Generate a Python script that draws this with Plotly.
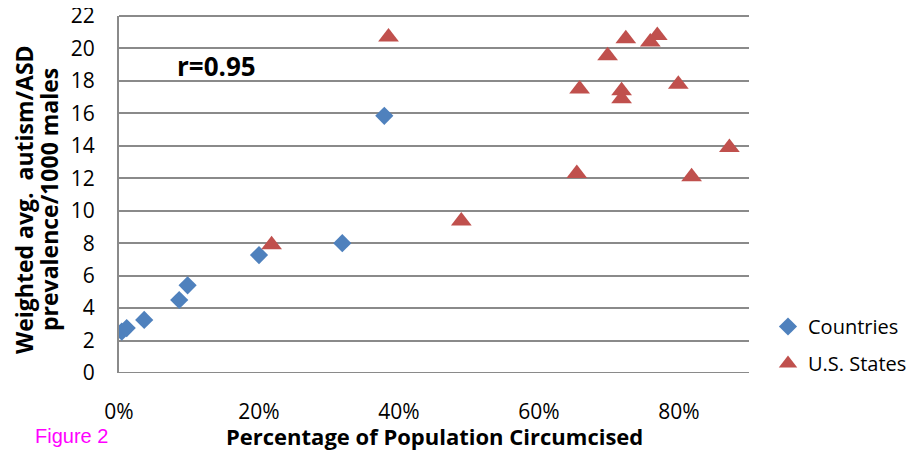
import plotly.graph_objects as go

# Countries (blue diamonds): % circumcised (fraction), prevalence per 1000 males
countries_x = [0.004, 0.011, 0.036, 0.086, 0.098, 0.200, 0.319, 0.379]
countries_y = [2.55, 2.77, 3.27, 4.5, 5.4, 7.27, 8.0, 15.85]

# U.S. States (red triangles)
states_x = [0.218, 0.385, 0.489, 0.654, 0.658, 0.698, 0.724, 0.718, 0.718, 0.759, 0.769, 0.799, 0.872, 0.818]
states_y = [7.9, 20.7, 9.37, 12.3, 17.5, 19.55, 20.6, 17.4, 16.9, 20.4, 20.8, 17.8, 13.9, 12.1]

x_ticks = [0, 0.2, 0.4, 0.6, 0.8]
x_tick_labels = ["0%", "20%", "40%", "60%", "80%"]
y_ticks = list(range(0, 23, 2))

y_title_lines = ["Weighted avg.  autism/ASD", "prevalence/1000 males"]
x_title = "Percentage of Population Circumcised"

FONT = "Open Sans"
GRID = "#8a8a8a"

# the page body adds an 8px margin; compensate so the plot lands where the reference has it
OFF = 8
W, H = 923 - OFF, 450 - OFF
L, T = 119 - OFF, 16 - OFF
PW, PH = 630, 357
R, B = W - L - PW, H - T - PH


def px_x(px):
    return (px - OFF - L) / PW


def px_y(py):
    return (T + PH - (py - OFF)) / PH


fig = go.Figure()
fig.add_trace(go.Scatter(
    x=countries_x, y=countries_y, mode="markers", name="Countries",
    legendgroup="a",
    marker=dict(symbol="diamond", size=14, color="#4F81BD"),
))
fig.add_trace(go.Scatter(
    x=states_x, y=states_y, mode="markers", name="U.S. States",
    legendgroup="b",
    marker=dict(symbol="triangle-up", size=18, color="#C0504D"),
))

fig.update_layout(
    width=W, height=H,
    margin=dict(l=L, r=R, t=T, b=B),
    paper_bgcolor="white", plot_bgcolor="white",
    font=dict(family=FONT, size=21, color="#000"),
    xaxis=dict(
        range=[0, 0.9], tickvals=x_ticks, ticktext=x_tick_labels,
        showgrid=False, zeroline=False, showline=False, ticks="",
        ticklabelstandoff=24, automargin=False, ticklabeloverflow="allow",
        tickfont=dict(family=FONT, size=21),
    ),
    yaxis=dict(
        range=[0, 22], tickvals=y_ticks,
        showgrid=True, gridcolor=GRID, gridwidth=2,
        zeroline=False, showline=True, linecolor=GRID, linewidth=2,
        ticks="", ticklabelstandoff=18, automargin=False, ticklabeloverflow="allow",
        tickfont=dict(family=FONT, size=21),
    ),
    legend=dict(
        x=px_x(768), y=px_y(307), xanchor="left", yanchor="top",
        font=dict(family=FONT, size=20), tracegroupgap=8,
        bgcolor="rgba(0,0,0,0)",
    ),
    showlegend=True,
)

fig.add_shape(type="line", xref="paper", yref="paper", x0=0, x1=1, y0=1, y1=1,
              line=dict(color=GRID, width=2))
fig.add_shape(type="line", xref="paper", yref="y", x0=0, x1=1, y0=0, y1=0,
              line=dict(color=GRID, width=2))

# axis titles
fig.add_annotation(x=px_x(434), y=px_y(436), xref="paper", yref="paper",
                   xanchor="center", yanchor="middle", showarrow=False,
                   text="<b>" + x_title + "</b>",
                   font=dict(family=FONT, size=22, color="#000"))
for cx, line in zip([24, 49], y_title_lines):
    fig.add_annotation(x=px_x(cx), y=px_y(200), xref="paper", yref="paper",
                       xanchor="center", yanchor="middle", showarrow=False, textangle=-90,
                       text="<b>" + line + "</b>",
                       font=dict(family=FONT, size=23, color="#000"))

fig.add_annotation(x=0.08, y=18.9, xref="x", yref="y", xanchor="left",
                   text="<b>r=0.95</b>", showarrow=False,
                   font=dict(family=FONT, size=26, color="#000"))
fig.add_annotation(x=px_x(33), y=px_y(436), xref="paper", yref="paper",
                   xanchor="left", yanchor="middle", showarrow=False, text="Figure 2",
                   font=dict(family="Liberation Sans", size=20, color="#FF00FF"))

fig.write_html("out.html")
